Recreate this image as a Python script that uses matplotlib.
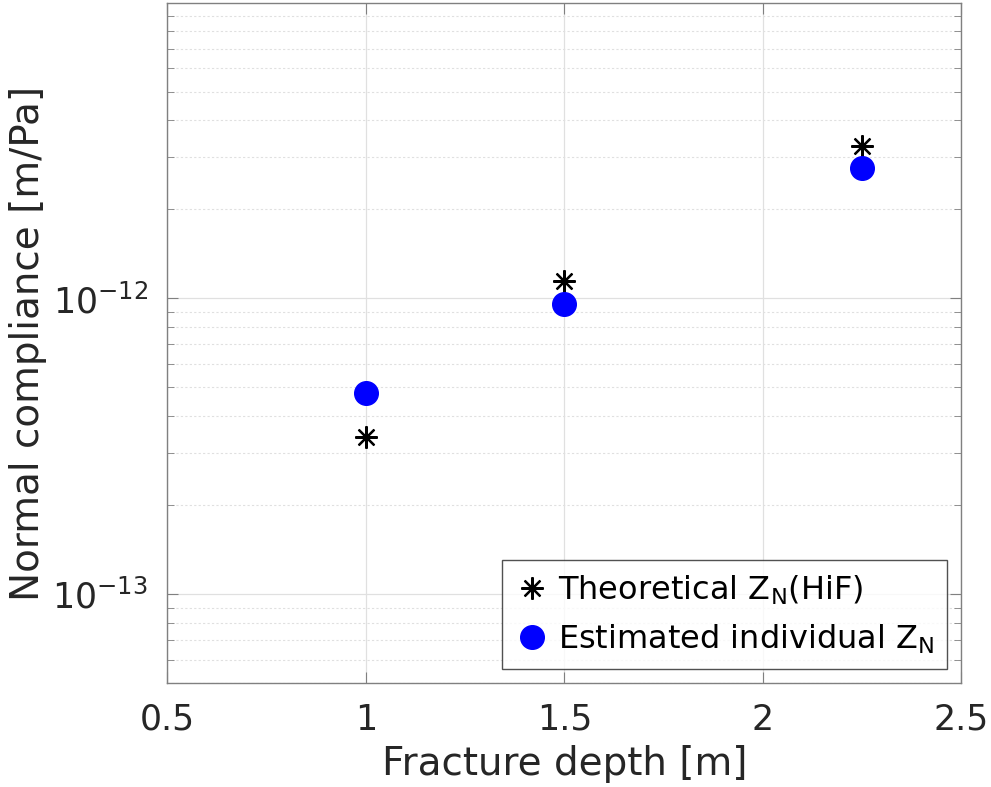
import matplotlib
matplotlib.use("Agg")
import matplotlib.pyplot as plt
from matplotlib.ticker import NullFormatter, FixedLocator

depth = [1.0, 1.5, 2.25]
theoretical = [3.40e-13, 1.147e-12, 3.29e-12]
estimated = [4.80e-13, 9.56e-13, 2.77e-12]
xticks = [0.5, 1, 1.5, 2, 2.5]
yticks = [1e-13, 1e-12]

plt.rcParams['font.family'] = ['DejaVu Sans']
plt.rcParams['mathtext.fontset'] = 'dejavusans'

fig = plt.figure(figsize=(9.91, 7.87), dpi=100)
ax = fig.add_axes([0.169, 0.132, 0.801, 0.8636])

ax.plot(depth, theoretical, linestyle='none', marker=(8, 2, 0), markersize=16,
        markeredgewidth=1.6, color='black', label=r'Theoretical $\mathregular{Z_N}$(HiF)', zorder=3)
ax.plot(depth, estimated, linestyle='none', marker='o', markersize=17,
        color='#0000ff', markeredgecolor='#0000ff', label=r'Estimated individual $\mathregular{Z_N}$', zorder=3)

ax.set_yscale('log')
ax.set_xlim(0.5, 2.5)
ax.set_ylim(5e-14, 0.995e-11)
ax.set_xticks(xticks)
ax.set_xticklabels([f"{v:g}" for v in xticks])
ax.yaxis.set_major_locator(FixedLocator(yticks))
ax.yaxis.set_minor_locator(FixedLocator([m * 10.0**e for e in (-14, -13, -12) for m in range(2, 10)
                                         if 5e-14 <= m * 10.0**e <= 1e-11]))
ax.yaxis.set_minor_formatter(NullFormatter())
ax.set_yticklabels([r'$10^{-13}$', r'$10^{-12}$'])

ax.grid(True, which='major', color='#e0e0e0', linewidth=0.9, linestyle='-')
ax.grid(True, which='minor', axis='y', color='#e0e0e0', linewidth=0.8, linestyle=(0, (2, 2)))
ax.set_axisbelow(True)

for s in ax.spines.values():
    s.set_color('#808080')
    s.set_linewidth(1.0)
ax.tick_params(which='both', direction='in', top=True, right=True, colors='#808080',
               labelcolor='#262626', labelsize=25, pad=14)
ax.tick_params(which='major', length=8)
ax.tick_params(which='minor', length=5)

ax.set_xlabel('Fracture depth [m]', fontsize=28, color='#262626', labelpad=6)
ax.set_ylabel('Normal compliance [m/Pa]', fontsize=28, color='#262626', labelpad=4)

leg = ax.legend(loc='lower right', fontsize=23, frameon=True, fancybox=False,
                edgecolor='#262626', handletextpad=0.25, borderpad=0.4,
                labelspacing=0.5, handlelength=1.1, borderaxespad=0.45)
leg.get_frame().set_linewidth(1.0)

fig.savefig('out.png', dpi=100)
